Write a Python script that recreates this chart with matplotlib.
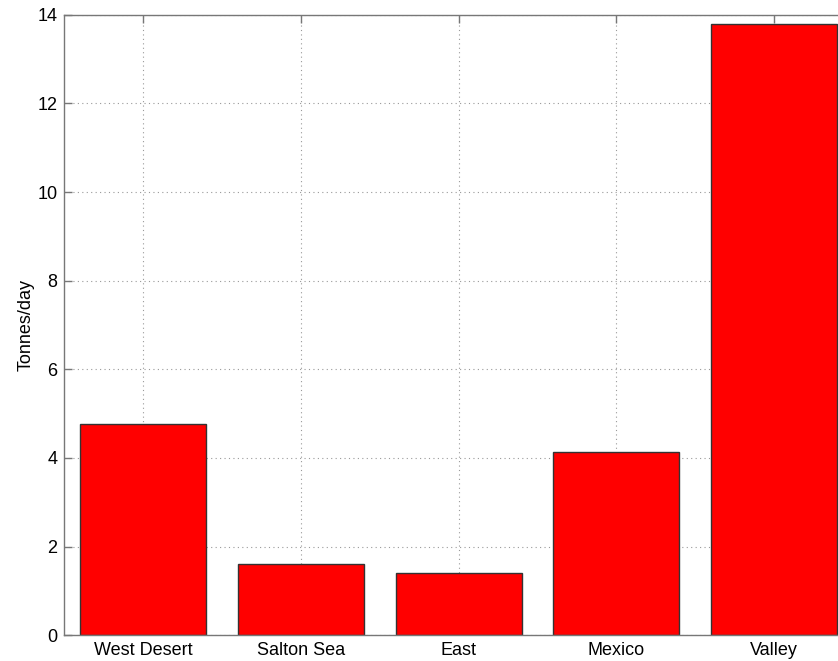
import matplotlib
matplotlib.use("Agg")
import matplotlib.pyplot as plt
import numpy as np

categories = ["West Desert", "Salton Sea", "East", "Mexico", "Valley"]
values = [4.77, 1.615, 1.41, 4.14, 13.79]
yticks = [0, 2, 4, 6, 8, 10, 12, 14]

plt.rcParams['font.family'] = ['Liberation Sans', 'DejaVu Sans']

fig = plt.figure(figsize=(8.38, 6.61), dpi=100)
ax = fig.add_axes([64.3/838, 25.7/661, (852.9-64.3)/838, (635.3-14.7)/661])

x = np.arange(1, len(categories) + 1)
ax.bar(x, values, width=0.8, color='#ff0000', edgecolor='#333333', linewidth=1.0, zorder=3)

ax.set_xlim(0.5, 5.5)
ax.set_ylim(0, 14)
ax.set_xticks(x)
ax.set_xticklabels(categories)
ax.set_yticks(yticks)
ax.set_yticklabels([str(t) for t in yticks])
ax.set_ylabel("Tonnes/day", fontsize=13, labelpad=2)

ax.grid(True, linestyle=(0, (1, 3)), color='#999999', linewidth=0.8, zorder=0)
ax.set_axisbelow(True)

for s in ax.spines.values():
    s.set_color('#777777')
    s.set_linewidth(1.0)
    s.set_zorder(4)

ax.tick_params(axis='both', direction='in', length=6, width=1.0, color='#777777',
               labelsize=13, top=True, right=True, pad=5)

fig.savefig("out.png", dpi=100)
